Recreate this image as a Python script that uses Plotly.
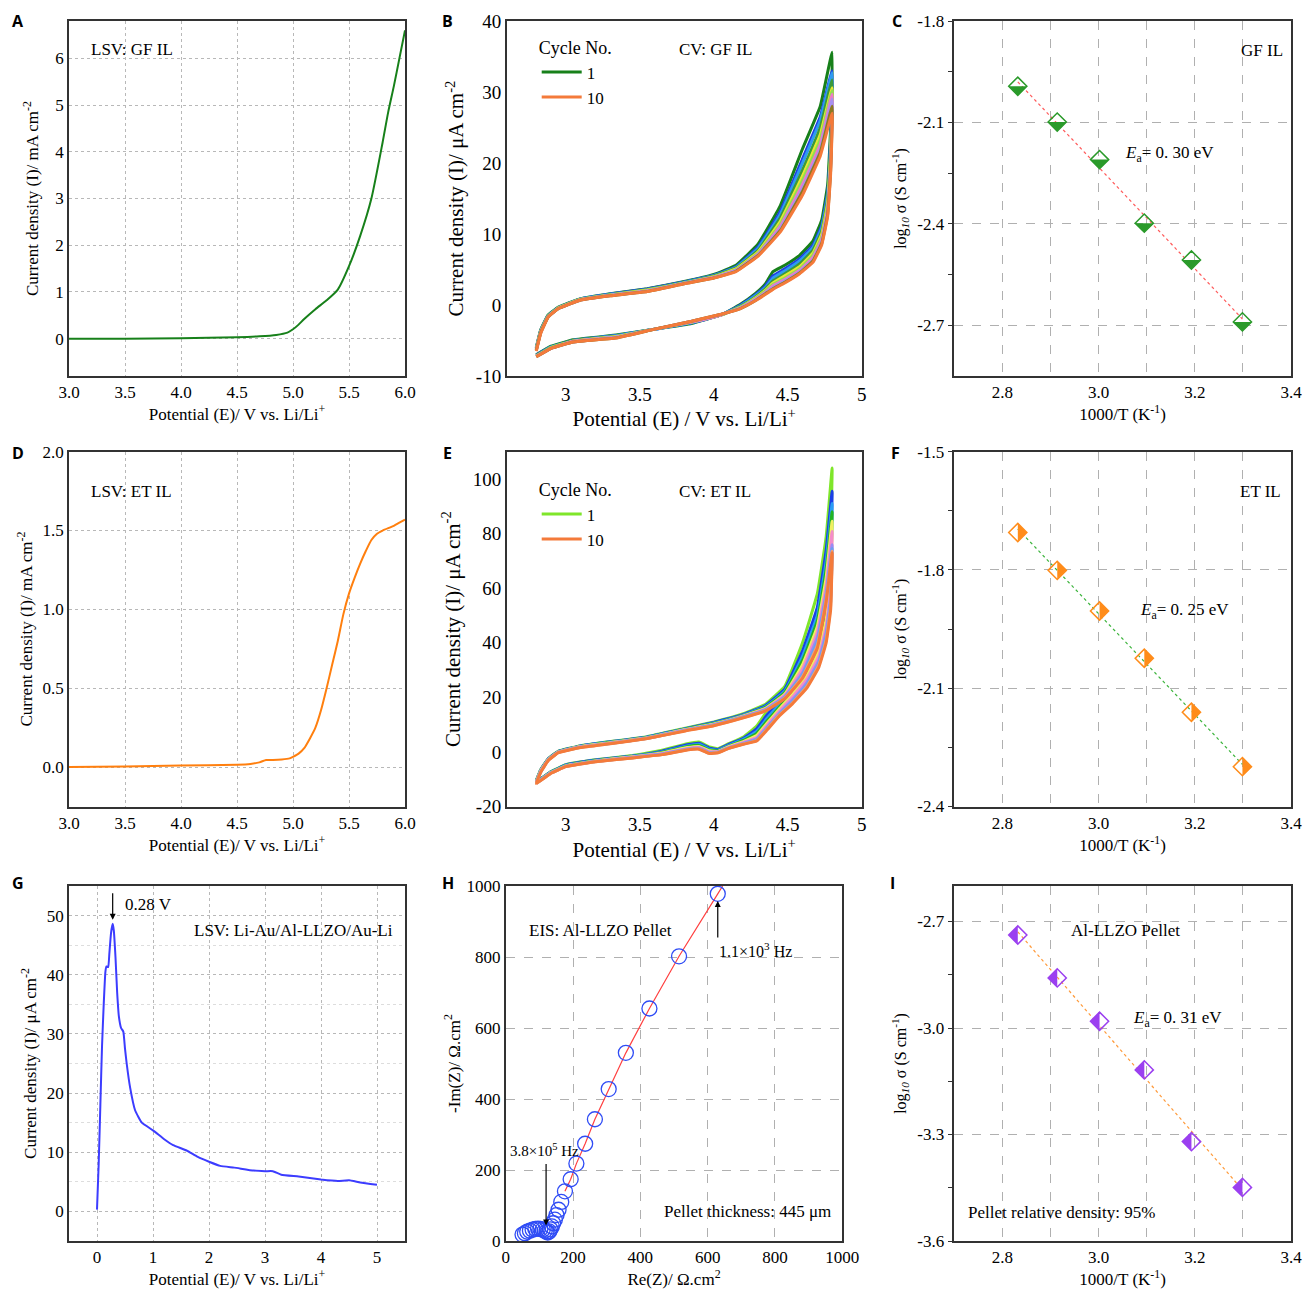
import numpy as np
import plotly.graph_objects as go

SERIF = "Liberation Serif"

# ---------------- A: LSV, GF IL (mA cm-2)
lsv_gf_E = [3.0, 3.5, 4.0, 4.5, 4.7, 4.85, 4.95, 5.0, 5.05, 5.1, 5.2, 5.3, 5.4, 5.5, 5.6, 5.7, 5.8, 5.85, 5.9, 5.95, 6.0]
lsv_gf_I = [0.0, 0.0, 0.01, 0.03, 0.05, 0.08, 0.13, 0.2, 0.3, 0.42, 0.63, 0.82, 1.05, 1.55, 2.2, 3.0, 4.2, 4.85, 5.4, 6.0, 6.6]

# ---------------- D: LSV, ET IL (mA cm-2)
lsv_et_E = [3.0, 3.5, 4.0, 4.5, 4.62, 4.7, 4.76, 4.82, 4.9, 4.97, 5.0, 5.05, 5.1, 5.15, 5.2, 5.25, 5.3,
            5.35, 5.4, 5.45, 5.5, 5.55, 5.6, 5.65, 5.7, 5.75, 5.8, 5.9, 5.95, 6.0]
lsv_et_I = [0.0, 0.003, 0.01, 0.015, 0.02, 0.03, 0.045, 0.045, 0.048, 0.055, 0.065, 0.085, 0.12, 0.18, 0.25,
            0.36, 0.5, 0.65, 0.8, 0.97, 1.1, 1.2, 1.29, 1.37, 1.44, 1.48, 1.5, 1.53, 1.55, 1.57]

# ---------------- B: CV, GF IL, 10 cycles (uA cm-2); forward branch then reverse branch
cv_gf_E = [2.80, 2.83, 2.88, 2.95, 3.10, 3.30, 3.55, 3.80, 4.00, 4.15, 4.30, 4.45, 4.60, 4.72, 4.80,
           4.79, 4.77, 4.73, 4.67, 4.58, 4.48, 4.40, 4.35, 4.28, 4.18, 4.05, 3.85, 3.60, 3.35, 3.05, 2.90, 2.80]
cv_gf_c1 = [-6.0, -3.5, -1.4, -0.3, 0.9, 1.6, 2.3, 3.3, 4.3, 5.6, 8.6, 14.0, 22.0, 28.0, 35.6,
            25.0, 17.0, 12.0, 9.0, 7.0, 5.6, 4.7, 3.0, 1.6, 0.1, -1.4, -2.6, -3.4, -4.2, -4.9, -5.8, -7.0]
cv_gf_c2 = [-6.1, -3.6, -1.5, -0.35, 0.85, 1.55, 2.25, 3.25, 4.2, 5.4, 8.2, 13.2, 20.6, 26.5, 33.0,
            23.5, 16.0, 11.2, 8.4, 6.5, 5.1, 4.1, 2.7, 1.4, 0.0, -1.4, -2.5, -3.4, -4.3, -5.0, -5.9, -7.0]
cv_gf_c3 = [-6.1, -3.6, -1.5, -0.35, 0.85, 1.5, 2.2, 3.2, 4.15, 5.3, 8.0, 12.8, 20.0, 26.0, 32.7,
            23.0, 15.6, 10.9, 8.1, 6.2, 4.8, 3.8, 2.5, 1.3, -0.1, -1.4, -2.5, -3.4, -4.3, -5.0, -5.9, -7.1]
cv_gf_c4 = [-6.2, -3.7, -1.55, -0.4, 0.8, 1.45, 2.15, 3.15, 4.1, 5.2, 7.7, 12.3, 19.0, 25.0, 31.7,
            22.0, 15.0, 10.4, 7.7, 5.8, 4.4, 3.4, 2.3, 1.1, -0.2, -1.4, -2.4, -3.4, -4.4, -5.0, -6.0, -7.1]
cv_gf_c5 = [-6.2, -3.7, -1.6, -0.4, 0.8, 1.4, 2.1, 3.1, 4.0, 5.1, 7.5, 11.8, 18.2, 24.0, 30.6,
            21.2, 14.4, 10.0, 7.3, 5.4, 4.1, 3.1, 2.1, 1.0, -0.3, -1.4, -2.4, -3.4, -4.4, -5.1, -6.0, -7.2]
cv_gf_c6 = [-6.3, -3.8, -1.6, -0.45, 0.75, 1.4, 2.05, 3.1, 3.95, 5.0, 7.3, 11.4, 17.6, 23.3, 30.2,
            20.6, 14.0, 9.6, 7.0, 5.1, 3.8, 2.9, 2.0, 0.9, -0.3, -1.4, -2.4, -3.4, -4.5, -5.1, -6.0, -7.2]
cv_gf_c7 = [-6.3, -3.8, -1.65, -0.45, 0.75, 1.35, 2.0, 3.05, 3.9, 4.9, 7.2, 11.1, 17.0, 22.6, 29.7,
            20.0, 13.6, 9.3, 6.7, 4.9, 3.6, 2.7, 1.8, 0.8, -0.4, -1.4, -2.4, -3.4, -4.5, -5.1, -6.1, -7.2]
cv_gf_c8 = [-6.4, -3.9, -1.65, -0.5, 0.7, 1.35, 1.95, 3.05, 3.85, 4.85, 7.1, 10.8, 16.5, 22.0, 29.0,
            19.5, 13.2, 9.0, 6.4, 4.7, 3.4, 2.5, 1.7, 0.7, -0.4, -1.3, -2.3, -3.4, -4.5, -5.2, -6.1, -7.3]
cv_gf_c9 = [-6.4, -3.9, -1.7, -0.5, 0.7, 1.3, 1.9, 3.0, 3.8, 4.75, 7.0, 10.5, 16.0, 21.5, 28.0,
            19.0, 12.8, 8.7, 6.2, 4.5, 3.2, 2.3, 1.6, 0.6, -0.5, -1.3, -2.3, -3.4, -4.6, -5.2, -6.1, -7.3]
cv_gf_c10 = [-6.5, -4.0, -1.7, -0.5, 0.7, 1.3, 1.9, 3.0, 3.8, 4.7, 6.9, 10.3, 15.5, 21.0, 27.0,
             18.5, 12.5, 8.5, 6.0, 4.4, 3.1, 2.2, 1.5, 0.6, -0.5, -1.3, -2.3, -3.4, -4.6, -5.2, -6.1, -7.3]
cv_gf_cycles = [cv_gf_c1, cv_gf_c2, cv_gf_c3, cv_gf_c4, cv_gf_c5, cv_gf_c6, cv_gf_c7, cv_gf_c8, cv_gf_c9, cv_gf_c10]
cv_gf_colors = ["#17801a", "#1f40e0", "#2e9bf0", "#3a9a3a", "#e8e830", "#90e050", "#f07ac8", "#a890f0", "#8c7a20", "#f47a3a"]

# ---------------- E: CV, ET IL, 10 cycles (uA cm-2)
cv_et_E = [2.80, 2.83, 2.88, 2.95, 3.10, 3.30, 3.55, 3.80, 4.00, 4.20, 4.35, 4.48, 4.60, 4.70, 4.76, 4.80,
           4.79, 4.76, 4.71, 4.63, 4.53, 4.44, 4.36, 4.29, 4.20, 4.10, 4.03, 3.97, 3.90, 3.82, 3.65, 3.45,
           3.20, 3.00, 2.90, 2.80]
cv_et_c1 = [-10.5, -6.5, -2.5, 0.3, 2.3, 3.8, 5.6, 8.6, 11.0, 14.0, 17.5, 24.0, 40.0, 58.0, 79.0, 104.0,
            80.0, 62.0, 46.0, 35.0, 26.0, 20.0, 15.0, 9.5, 5.5, 3.0, 1.2, 1.8, 3.6, 3.0, 0.6, -1.3, -2.9, -4.7, -7.2, -11.0]
cv_et_c2 = [-10.6, -6.6, -2.6, 0.2, 2.2, 3.7, 5.5, 8.4, 10.8, 13.7, 17.0, 23.0, 37.0, 53.0, 74.0, 95.5,
            75.0, 58.0, 43.5, 33.0, 24.5, 18.5, 13.5, 8.5, 5.0, 2.7, 0.9, 1.4, 3.2, 2.6, 0.3, -1.5, -3.0, -4.8, -7.3, -11.0]
cv_et_c3 = [-10.7, -6.7, -2.7, 0.15, 2.1, 3.6, 5.4, 8.3, 10.6, 13.5, 16.6, 22.3, 35.0, 50.0, 70.0, 91.0,
            70.0, 54.0, 41.0, 31.0, 23.0, 17.3, 12.3, 7.5, 4.6, 2.4, 0.6, 1.0, 2.8, 2.2, 0.0, -1.6, -3.1, -4.9, -7.4, -11.1]
cv_et_c4 = [-10.8, -6.8, -2.8, 0.1, 2.0, 3.5, 5.3, 8.2, 10.4, 13.3, 16.3, 21.8, 33.5, 48.0, 67.0, 88.0,
            66.0, 51.0, 39.0, 29.5, 22.0, 16.2, 11.3, 6.8, 4.2, 2.1, 0.4, 0.7, 2.4, 1.9, -0.2, -1.7, -3.2, -5.0, -7.5, -11.2]
cv_et_c5 = [-10.9, -6.9, -2.85, 0.0, 1.95, 3.4, 5.2, 8.1, 10.2, 13.2, 16.0, 21.2, 32.0, 46.0, 64.0, 84.5,
            63.0, 48.5, 37.0, 28.0, 21.0, 15.5, 10.5, 6.0, 3.8, 1.9, 0.2, 0.4, 2.0, 1.6, -0.4, -1.8, -3.3, -5.1, -7.5, -11.3]
cv_et_c6 = [-11.0, -7.0, -2.9, 0.0, 1.9, 3.3, 5.1, 8.0, 10.1, 13.0, 15.8, 20.8, 30.5, 44.0, 61.0, 80.8,
            60.0, 46.0, 35.0, 26.8, 20.0, 14.8, 9.8, 5.3, 3.5, 1.7, 0.1, 0.1, 1.7, 1.3, -0.6, -1.9, -3.4, -5.2, -7.6, -11.4]
cv_et_c7 = [-11.2, -7.2, -3.0, -0.1, 1.8, 3.2, 5.0, 7.9, 10.0, 12.9, 15.5, 20.3, 29.0, 42.0, 58.5, 75.9,
            57.0, 44.0, 33.5, 25.5, 19.0, 14.0, 9.0, 4.8, 3.2, 1.5, 0.0, -0.2, 1.4, 1.1, -0.8, -2.0, -3.5, -5.3, -7.7, -11.5]
cv_et_c8 = [-11.3, -7.3, -3.05, -0.15, 1.7, 3.1, 5.0, 7.8, 9.9, 12.8, 15.4, 20.0, 28.3, 40.5, 57.0, 74.5,
            55.0, 42.5, 32.5, 24.6, 18.3, 13.6, 8.6, 4.4, 3.0, 1.4, -0.1, -0.4, 1.2, 0.9, -0.9, -2.1, -3.5, -5.3, -7.7, -11.5]
cv_et_c9 = [-11.4, -7.4, -3.1, -0.2, 1.65, 3.05, 4.95, 7.7, 9.7, 12.6, 15.2, 19.7, 27.5, 39.0, 56.0, 73.5,
            53.5, 41.0, 31.7, 24.0, 17.8, 13.3, 8.3, 4.2, 2.9, 1.3, -0.2, -0.5, 1.1, 0.8, -1.0, -2.2, -3.6, -5.4, -7.8, -11.6]
cv_et_c10 = [-11.6, -7.5, -3.2, -0.3, 1.6, 3.0, 4.9, 7.6, 9.6, 12.5, 15.0, 19.5, 27.0, 38.0, 55.0, 73.0,
             52.0, 40.0, 31.0, 23.5, 17.5, 13.0, 8.0, 4.0, 2.8, 1.3, -0.3, -0.6, 1.0, 0.7, -1.0, -2.2, -3.6, -5.4, -7.8, -11.6]
cv_et_cycles = [cv_et_c1, cv_et_c2, cv_et_c3, cv_et_c4, cv_et_c5, cv_et_c6, cv_et_c7, cv_et_c8, cv_et_c9, cv_et_c10]
cv_et_colors = ["#7fe62a", "#1a3fe6", "#2a9df4", "#22b422", "#f0f060", "#f48cc8", "#9a8cf4", "#6aa0f0", "#f4a070", "#f47a3a"]

# ---------------- C, F, I: Arrhenius
inv_T = [2.832, 2.914, 3.002, 3.095, 3.193, 3.299]
log_sigma_gf = [-1.993, -2.099, -2.210, -2.398, -2.507, -2.690]
log_sigma_et = [-1.705, -1.801, -1.904, -2.024, -2.161, -2.299]
log_sigma_llzo = [-2.738, -2.859, -2.981, -3.118, -3.320, -3.449]

# ---------------- G: LSV Li-Au/Al-LLZO/Au-Li (uA cm-2)
lsv_llzo_E = [0.0, 0.03, 0.06, 0.09, 0.12, 0.15, 0.17, 0.2, 0.22, 0.25, 0.28, 0.3, 0.33, 0.36, 0.39, 0.43,
              0.47, 0.5, 0.53, 0.59, 0.68, 0.8, 1.0, 1.2, 1.36, 1.6, 1.8, 2.0, 2.2, 2.45, 2.8, 3.0, 3.14,
              3.29, 3.6, 4.0, 4.3, 4.5, 4.7, 5.0]
lsv_llzo_I = [0.3, 8.0, 18.0, 28.0, 35.0, 40.5, 41.4, 41.3, 43.5, 47.0, 48.6, 47.5, 43.0, 37.0, 33.0, 31.0,
              30.4, 27.5, 25.0, 21.0, 17.1, 15.0, 13.7, 12.2, 11.2, 10.3, 9.2, 8.4, 7.7, 7.4, 6.9, 6.8, 6.8,
              6.2, 5.9, 5.4, 5.15, 5.25, 4.9, 4.5]

# ---------------- H: EIS Nyquist (ohm cm2)
eis_re = [50, 57, 64, 72, 80, 88, 96, 103, 110, 116, 121, 125, 129, 133, 137, 141, 146, 151, 157, 165,
          176, 193, 210, 236, 265, 306, 357, 427, 515, 630]
eis_im = [18, 22, 26, 29, 32, 34, 35, 34, 32, 29, 26, 24, 27, 33, 41, 50, 60, 73, 88, 110,
          140, 174, 218, 274, 343, 428, 530, 655, 802, 978]

# ---------------- tick labels
lsv_x_ticks = [3.0, 3.5, 4.0, 4.5, 5.0, 5.5, 6.0]
lsv_x_text = ["3.0", "3.5", "4.0", "4.5", "5.0", "5.5", "6.0"]
lsv_gf_y_ticks = [0, 1, 2, 3, 4, 5, 6]
lsv_gf_y_text = ["0", "1", "2", "3", "4", "5", "6"]
lsv_et_y_ticks = [0.0, 0.5, 1.0, 1.5, 2.0]
lsv_et_y_text = ["0.0", "0.5", "1.0", "1.5", "2.0"]
cv_x_ticks = [3, 3.5, 4, 4.5, 5]
cv_x_text = ["3", "3.5", "4", "4.5", "5"]
cv_gf_y_ticks = [-10, 0, 10, 20, 30, 40]
cv_gf_y_text = ["-10", "0", "10", "20", "30", "40"]
cv_et_y_ticks = [-20, 0, 20, 40, 60, 80, 100]
cv_et_y_text = ["-20", "0", "20", "40", "60", "80", "100"]
arr_x_ticks = [2.8, 3.0, 3.2, 3.4]
arr_x_text = ["2.8", "3.0", "3.2", "3.4"]
arr_x_minor = [2.9, 3.1, 3.3]
gf_y_ticks = [-2.7, -2.4, -2.1, -1.8]
gf_y_text = ["-2.7", "-2.4", "-2.1", "-1.8"]
gf_y_minor = [-2.55, -2.25, -1.95]
et_y_ticks = [-2.4, -2.1, -1.8, -1.5]
et_y_text = ["-2.4", "-2.1", "-1.8", "-1.5"]
et_y_minor = [-2.25, -1.95, -1.65]
llzo_y_ticks = [-3.6, -3.3, -3.0, -2.7]
llzo_y_text = ["-3.6", "-3.3", "-3.0", "-2.7"]
llzo_y_minor = [-3.45, -3.15, -2.85]
g_x_ticks = [0, 1, 2, 3, 4, 5]
g_x_text = ["0", "1", "2", "3", "4", "5"]
g_y_ticks = [0, 10, 20, 30, 40, 50]
g_y_text = ["0", "10", "20", "30", "40", "50"]
g_y_minor = [5, 15, 25, 35, 45]
h_ticks = [0, 200, 400, 600, 800, 1000]
h_text = ["0", "200", "400", "600", "800", "1000"]

# ---------------- layout geometry (pixels of the 1305 x 1290 page)
W, H = 1305, 1290
cols = [(69, 405), (506.7, 861.7), (954.3, 1291)]
rows = [(21, 376), (451.7, 806.5), (886, 1241)]
h_cols = (505.7, 842.3)  # panel H is narrower than B and E


def dom_x(c):
    return [c[0] / W, c[1] / W]


def dom_y(r):
    return [1 - rows[r][1] / H, 1 - rows[r][0] / H]


def ax(rng, vals, text, title, tsize, ttsize, standoff, grid=None, minor=None, ticks="", ticklen=5):
    d = dict(range=rng, tickmode="array", tickvals=vals, ticktext=text, automargin=False,
             showline=True, linecolor="#333333", linewidth=1.5, mirror=True,
             ticks=ticks, ticklen=ticklen, tickcolor="#333333", zeroline=False, showgrid=False,
             tickfont=dict(family=SERIF, size=tsize, color="black"),
             title=dict(text=title, standoff=standoff, font=dict(family=SERIF, size=ttsize, color="black")))
    if grid:
        d.update(showgrid=True, gridcolor=grid[0], griddash=grid[1], gridwidth=1)
    if minor:
        d["minor"] = minor
    return d


DOT = ("#b8b8b8", "dot")
DASH = ("#b0b0b0", "dash")
pot_t = "Potential (E)/ V vs. Li/Li<sup>+</sup>"
cv_pot_t = "Potential (E) / V vs. Li/Li<sup>+</sup>"
mA_t = "Current density (I)/ mA cm<sup>-2</sup>"
uA_t = "Current density (I)/ μA cm<sup>-2</sup>"
invT_t = "1000/T (K<sup>-1</sup>)"
log_t = "log<sub><i>10</i></sub> σ (S cm<sup>-1</sup>)"

fig = go.Figure()

# A
fig.add_trace(go.Scatter(x=lsv_gf_E, y=lsv_gf_I, mode="lines", line=dict(color="#17801a", width=2, shape="spline", smoothing=0.6),
                         xaxis="x", yaxis="y", showlegend=False))
# D
fig.add_trace(go.Scatter(x=lsv_et_E, y=lsv_et_I, mode="lines", line=dict(color="#ff7f0e", width=2, shape="spline", smoothing=0.6),
                         xaxis="x4", yaxis="y4", showlegend=False))
# B
for i, (yy, c) in enumerate(zip(cv_gf_cycles, cv_gf_colors)):
    fig.add_trace(go.Scatter(x=cv_gf_E, y=yy, mode="lines", line=dict(color=c, width=3, shape="spline", smoothing=0.3),
                             name=str(i + 1), xaxis="x2", yaxis="y2", legend="legend", showlegend=i in (0, 9)))
# E
for i, (yy, c) in enumerate(zip(cv_et_cycles, cv_et_colors)):
    fig.add_trace(go.Scatter(x=cv_et_E, y=yy, mode="lines", line=dict(color=c, width=3, shape="spline", smoothing=0.3),
                             name=str(i + 1), xaxis="x5", yaxis="y5", legend="legend2", showlegend=i in (0, 9)))

# Arrhenius panels
shapes = []
arr = [(log_sigma_gf, "3", "#2a9a2a", "#ff5a5a", "bottom"),
       (log_sigma_et, "6", "#ff8c1a", "#3cb43c", "right"),
       (log_sigma_llzo, "9", "#9b3ff0", "#ff9a3a", "left")]
hd = 9
half_path = {"bottom": f"M-{hd},0 L{hd},0 L0,-{hd} Z",
             "right": f"M0,{hd} L{hd},0 L0,-{hd} Z",
             "left": f"M0,{hd} L-{hd},0 L0,-{hd} Z"}
for ys, n, mc, lc, side in arr:
    k, b = np.polyfit(inv_T, ys, 1)
    fx = [inv_T[0], inv_T[-1]]
    fig.add_trace(go.Scatter(x=fx, y=[k * v + b for v in fx], mode="lines", line=dict(color=lc, width=1.2, dash="dot"),
                             xaxis="x" + n, yaxis="y" + n, showlegend=False))
    fig.add_trace(go.Scatter(x=inv_T, y=ys, mode="markers",
                             marker=dict(symbol="diamond-open", size=14, color=mc, line=dict(width=1.5, color=mc)),
                             xaxis="x" + n, yaxis="y" + n, showlegend=False))
    for xv, yv in zip(inv_T, ys):
        shapes.append(dict(type="path", xref="x" + n, yref="y" + n, xsizemode="pixel", ysizemode="pixel",
                           xanchor=xv, yanchor=yv, path=half_path[side], fillcolor=mc, line=dict(width=0)))

# G
fig.add_trace(go.Scatter(x=lsv_llzo_E, y=lsv_llzo_I, mode="lines", line=dict(color="#3c3cff", width=2, shape="spline", smoothing=0.4),
                         xaxis="x7", yaxis="y7", showlegend=False))
# H
slope = (eis_im[-1] - eis_im[-2]) / (eis_re[-1] - eis_re[-2])
line_re = eis_re[20:] + [eis_re[-1] + (1000 - eis_im[-1]) / slope]
line_im = eis_im[20:] + [1000]
fig.add_trace(go.Scatter(x=line_re, y=line_im, mode="lines", line=dict(color="#ff4040", width=1.2),
                         xaxis="x8", yaxis="y8", showlegend=False))
fig.add_trace(go.Scatter(x=eis_re, y=eis_im, mode="markers",
                         marker=dict(symbol="circle-open", size=15, color="#2f4cf5", line=dict(width=1.3)),
                         xaxis="x8", yaxis="y8", showlegend=False))

lay = dict(width=W, height=H, margin=dict(l=0, r=0, t=0, b=0), paper_bgcolor="white", plot_bgcolor="white",
           font=dict(family=SERIF, color="black"), shapes=shapes)

axes = {
    1: (ax([3, 6], lsv_x_ticks, lsv_x_text, pot_t, 17, 17, 6, DOT),
        ax([-0.8, 6.8], lsv_gf_y_ticks, lsv_gf_y_text, mA_t, 17, 17, 12, DOT), cols[0], 0),
    2: (ax([2.6, 5], cv_x_ticks, cv_x_text, cv_pot_t, 19, 21, 3),
        ax([-10, 40], cv_gf_y_ticks, cv_gf_y_text, uA_t, 19, 21, 6), cols[1], 0),
    3: (ax([2.7, 3.4], arr_x_ticks, arr_x_text, invT_t, 17, 17, 7, DASH,
           minor=dict(tickvals=arr_x_minor, showgrid=True, gridcolor=DASH[0], griddash="dash", ticks="")),
        ax([-2.85, -1.8], gf_y_ticks, gf_y_text, log_t, 17, 16, 7, DASH, ticks="outside",
           minor=dict(tickvals=gf_y_minor, ticks="outside", ticklen=5, tickcolor="#333333", showgrid=False)), cols[2], 0),
    4: (ax([3, 6], lsv_x_ticks, lsv_x_text, pot_t, 17, 17, 6, DOT),
        ax([-0.25, 2.0], lsv_et_y_ticks, lsv_et_y_text, mA_t, 17, 17, 6, DOT), cols[0], 1),
    5: (ax([2.6, 5], cv_x_ticks, cv_x_text, cv_pot_t, 19, 21, 3),
        ax([-20, 110], cv_et_y_ticks, cv_et_y_text, uA_t, 19, 21, 6), cols[1], 1),
    6: (ax([2.7, 3.4], arr_x_ticks, arr_x_text, invT_t, 17, 17, 7, DASH,
           minor=dict(tickvals=arr_x_minor, showgrid=True, gridcolor=DASH[0], griddash="dash", ticks="")),
        ax([-2.4, -1.5], et_y_ticks, et_y_text, log_t, 17, 16, 7, DASH, ticks="outside",
           minor=dict(tickvals=et_y_minor, ticks="outside", ticklen=5, tickcolor="#333333", showgrid=False)), cols[2], 1),
    7: (ax([-0.5, 5.5], g_x_ticks, g_x_text, pot_t, 17, 17, 5, DOT),
        ax([-5, 55], g_y_ticks, g_y_text, uA_t, 17, 17, 6, DOT,
           minor=dict(tickvals=g_y_minor, showgrid=True, gridcolor="#dddddd", griddash="dot", ticks="")), cols[0], 2),
    8: (ax([0, 1000], h_ticks, h_text, "Re(Z)/ Ω.cm<sup>2</sup>", 17, 17, 5, DASH),
        ax([0, 1000], h_ticks, h_text, "-Im(Z)/ Ω.cm<sup>2</sup>", 17, 17, 2, DASH), h_cols, 2),
    9: (ax([2.7, 3.4], arr_x_ticks, arr_x_text, invT_t, 17, 17, 7, DASH,
           minor=dict(tickvals=arr_x_minor, showgrid=True, gridcolor=DASH[0], griddash="dash", ticks="")),
        ax([-3.6, -2.6], llzo_y_ticks, llzo_y_text, log_t, 17, 16, 7, DASH, ticks="outside",
           minor=dict(tickvals=llzo_y_minor, ticks="outside", ticklen=5, tickcolor="#333333", showgrid=False)), cols[2], 2),
}
for n, (xa, ya, c, r) in axes.items():
    s = "" if n == 1 else str(n)
    xa.update(domain=dom_x(c), anchor="y" + s)
    ya.update(domain=dom_y(r), anchor="x" + s)
    lay["xaxis" + s] = xa
    lay["yaxis" + s] = ya

leg_common = dict(xanchor="left", yanchor="top", bgcolor="rgba(0,0,0,0)", itemwidth=40, tracegroupgap=0,
                  font=dict(family=SERIF, size=17, color="black"),
                  title=dict(text="Cycle No.", side="top", font=dict(family=SERIF, size=18, color="black")))
lay["legend"] = dict(x=(cols[1][0] + 30) / W, y=1 - 31 / H, **leg_common)
lay["legend2"] = dict(x=(cols[1][0] + 30) / W, y=1 - 473 / H, **leg_common)

ann = []
for letter, px, py in [("A", 18, 21), ("B", 448, 21), ("C", 897, 21), ("D", 18, 453), ("E", 448, 453),
                       ("F", 895, 453), ("G", 18, 883), ("H", 448, 883), ("I", 892, 883)]:
    ann.append(dict(text=f"<b>{letter}</b>", x=px / W, y=1 - py / H, xref="paper", yref="paper", showarrow=False,
                    font=dict(family="Open Sans", size=16, color="black"), xanchor="center", yanchor="middle"))


def txt(s, x, y, n, anchor="left", size=17):
    s_ = "" if n == 1 else str(n)
    ann.append(dict(text=s, x=x, y=y, xref="x" + s_, yref="y" + s_, showarrow=False, xanchor=anchor, yanchor="middle",
                    font=dict(family=SERIF, size=size, color="black")))


txt("LSV: GF IL", 3.18, 6.18, 1)
txt("LSV: ET IL", 3.18, 1.747, 4)
txt("CV: GF IL", 3.75, 36.0, 2)
txt("CV: ET IL", 3.75, 95.5, 5)
txt("GF IL", 3.387, -1.886, 3, anchor="right")
txt("<i>E</i><sub>a</sub>= 0. 30 eV", 3.051, -2.193, 3)
txt("ET IL", 3.384, -1.602, 6, anchor="right")
txt("<i>E</i><sub>a</sub>= 0. 25 eV", 3.082, -1.904, 6)
txt("Al-LLZO Pellet", 3.055, -2.726, 9, anchor="center")
txt("<i>E</i><sub>a</sub>= 0. 31 eV", 3.067, -2.976, 9)
txt("Pellet relative density: 95%", 2.724, -3.519, 9)
txt("0.28 V", 0.47, 51.8, 7)
txt("LSV: Li-Au/Al-LLZO/Au-Li", 1.69, 47.5, 7)
txt("EIS: Al-LLZO Pellet", 64, 876, 8)
txt("1.1×10<sup>3</sup> Hz", 627, 821, 8, size=16)
txt("3.8×10<sup>5</sup> Hz", 8, 256, 8, size=15)
txt("Pellet thickness: 445 μm", 973, 82, 8, anchor="right")

ann.append(dict(x=0.28, y=49.3, xref="x7", yref="y7", ax=0, ay=-28, showarrow=True, arrowhead=2, arrowsize=1,
                arrowwidth=1.2, arrowcolor="black", text=""))
ann.append(dict(x=630, y=958, xref="x8", yref="y8", ax=0, ay=38, showarrow=True, arrowhead=2, arrowsize=1,
                arrowwidth=1.2, arrowcolor="black", text=""))
ann.append(dict(x=120, y=44, xref="x8", yref="y8", ax=0, ay=-63, showarrow=True, arrowhead=2, arrowsize=1,
                arrowwidth=1.2, arrowcolor="black", text=""))
lay["annotations"] = ann

fig.update_layout(**lay)
# the page's default body margin would shift the figure and cut its bottom off
fig.write_html("out.html", config={"displayModeBar": False},
               post_script="document.body.style.margin='0';document.body.style.overflow='hidden';")
